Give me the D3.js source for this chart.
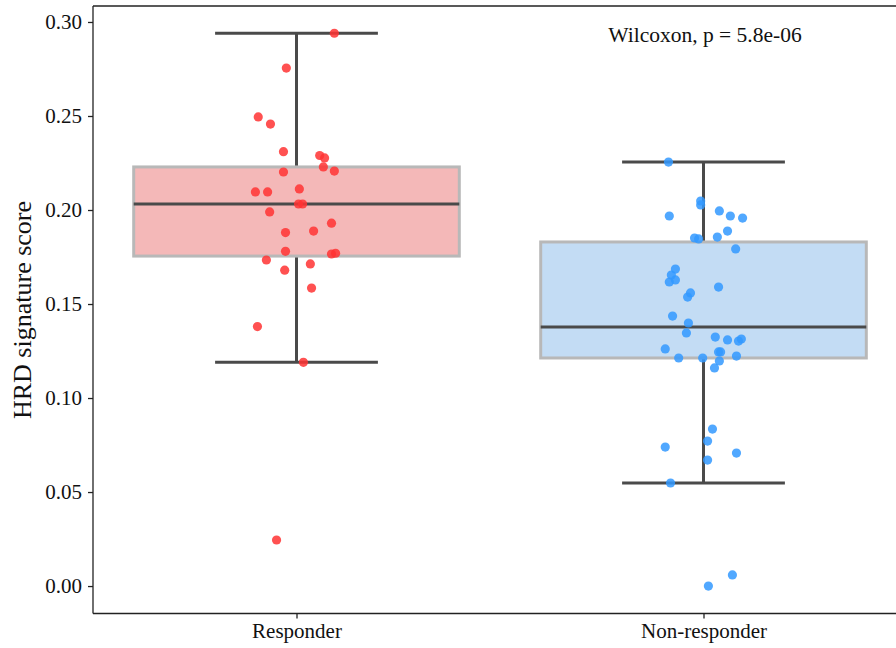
<!DOCTYPE html>
<html>
<head>
<meta charset="utf-8">
<script src="https://cdn.jsdelivr.net/npm/d3@7"></script>
<style>
  body { margin: 0; background: #fff; }
  svg text { font-family: "Liberation Serif", "Times New Roman", serif; fill: #111; }
</style>
</head>
<body>
<div id="app"></div>
<script>
// groups
const groups = ["Responder", "Non-responder"];
const yTicks = [0.00, 0.05, 0.10, 0.15, 0.20, 0.25, 0.30];
const pText = "Wilcoxon, p = 5.8e-06";

// box stats: [whiskerLow, q1, median, q3, whiskerHigh]
const respStats = [0.119, 0.1755, 0.2032, 0.2229, 0.294];
const nonStats = [0.0548, 0.1213, 0.1378, 0.183, 0.2255];

// scores (jitter offset in category units is kept beside each)
const respScores = [0.294, 0.2755, 0.2495, 0.2457, 0.231, 0.229, 0.2277, 0.2229, 0.2207, 0.2202,
  0.2096, 0.2096, 0.2112, 0.199, 0.2032, 0.2032, 0.193, 0.188, 0.1888, 0.178,
  0.1766, 0.177, 0.1734, 0.1713, 0.168, 0.1585, 0.138, 0.119, 0.0245];
const respJitter = [0.093, -0.025, -0.094, -0.064, -0.032, 0.057, 0.069, 0.066, 0.093, -0.032,
  -0.101, -0.071, 0.007, -0.066, 0.015, 0.005, 0.086, -0.027, 0.042, -0.027,
  0.086, 0.096, -0.074, 0.034, -0.029, 0.037, -0.096, 0.017, -0.049];

const nonScores = [0.2255, 0.2048, 0.2027, 0.1968, 0.1995, 0.1968, 0.1957, 0.1888, 0.1851, 0.1846,
  0.1856, 0.1793, 0.1686, 0.1654, 0.1617, 0.1628, 0.159, 0.1559, 0.1537, 0.1436,
  0.1399, 0.1346, 0.1324, 0.1309, 0.1303, 0.1314, 0.1261, 0.1213, 0.1213, 0.1245,
  0.1245, 0.1197, 0.1223, 0.116, 0.0835, 0.0771, 0.0739, 0.0707, 0.067, 0.0548,
  0.0059, 0.0];
const nonJitter = [-0.086, -0.007, -0.007, -0.084, 0.039, 0.066, 0.096, 0.059, -0.022, -0.012,
  0.034, 0.079, -0.069, -0.079, -0.084, -0.069, 0.037, -0.032, -0.039, -0.076,
  -0.037, -0.042, 0.029, 0.059, 0.086, 0.093, -0.094, -0.061, -0.002, 0.037,
  0.042, 0.039, 0.081, 0.027, 0.022, 0.010, -0.094, 0.081, 0.010, -0.081,
  0.071, 0.012];

const fills = ["#f4b8b8", "#c3dcf4"];
const dotColors = ["#ff3333", "#3399ff"];

const w = 896, h = 648;
const svg = d3.select("#app").append("svg")
  .attr("width", w).attr("height", h);

const xScale = d3.scaleLinear().domain([-0.5, 1.5]).range([93, 907]);
const yScale = d3.scaleLinear().domain([-0.0146, 0.3085]).range([613.5, 6]);

const boxes = [
  {i: 0, s: respStats},
  {i: 1, s: nonStats}
];

const boxW = 0.8, capW = 0.4;
const plot = svg.append("g");

boxes.forEach(b => {
  const [lo, q1, med, q3, hi] = b.s;
  const cx = b.i;
  // whiskers
  plot.append("line")
    .attr("x1", xScale(cx)).attr("x2", xScale(cx))
    .attr("y1", yScale(q3)).attr("y2", yScale(hi))
    .attr("stroke", "#4a4a4a").attr("stroke-width", 3);
  plot.append("line")
    .attr("x1", xScale(cx)).attr("x2", xScale(cx))
    .attr("y1", yScale(q1)).attr("y2", yScale(lo))
    .attr("stroke", "#4a4a4a").attr("stroke-width", 3);
  [lo, hi].forEach(v => {
    plot.append("line")
      .attr("x1", xScale(cx - capW / 2)).attr("x2", xScale(cx + capW / 2))
      .attr("y1", yScale(v)).attr("y2", yScale(v))
      .attr("stroke", "#4a4a4a").attr("stroke-width", 3);
  });
  // box
  plot.append("rect")
    .attr("x", xScale(cx - boxW / 2))
    .attr("y", yScale(q3))
    .attr("width", xScale(cx + boxW / 2) - xScale(cx - boxW / 2))
    .attr("height", yScale(q1) - yScale(q3))
    .attr("fill", fills[b.i])
    .attr("stroke", "#b8b8b8")
    .attr("stroke-width", 3);
  plot.append("line")
    .attr("x1", xScale(cx - boxW / 2)).attr("x2", xScale(cx + boxW / 2))
    .attr("y1", yScale(med)).attr("y2", yScale(med))
    .attr("stroke", "#4a4a4a").attr("stroke-width", 3);
});

// dots
const dots = [
  ...respScores.map((v, k) => ({g: 0, v: v, j: respJitter[k]})),
  ...nonScores.map((v, k) => ({g: 1, v: v, j: nonJitter[k]}))
];
plot.selectAll(".dot")
  .data(dots)
  .enter()
  .append("circle")
  .attr("class", "dot")
  .attr("cx", d => xScale(d.g + d.j))
  .attr("cy", d => yScale(d.v))
  .attr("r", 4.6)
  .attr("fill", d => dotColors[d.g])
  .attr("fill-opacity", 0.85);

// axes
const yAxis = d3.axisLeft(yScale).tickValues(yTicks).tickFormat(d3.format(".2f")).tickSize(5).tickPadding(6);
const gy = svg.append("g").attr("transform", "translate(93,0)").call(yAxis);
gy.select(".domain").attr("d", "M0," + yScale.range()[0] + "V" + yScale.range()[1]);

const xAxis = d3.axisBottom(xScale).tickValues([0, 1]).tickFormat(i => groups[i]).tickSize(5).tickPadding(5);
const gx = svg.append("g").attr("transform", "translate(0,613.5)").call(xAxis);
gx.select(".domain").attr("d", "M93,0H907");

svg.selectAll(".domain").attr("stroke", "#222").attr("stroke-width", 1.3);
svg.selectAll(".tick line").attr("stroke", "#222").attr("stroke-width", 1.3);
svg.selectAll(".tick text").style("font-size", "21px").attr("fill", "#111");

// top spine
svg.append("line").attr("x1", 93).attr("x2", 907).attr("y1", 6).attr("y2", 6)
  .attr("stroke", "#222").attr("stroke-width", 1.3);

svg.append("text")
  .attr("transform", "rotate(-90)")
  .attr("x", -310).attr("y", 31)
  .style("text-anchor", "middle")
  .style("font-size", "26px")
  .text("HRD signature score");

svg.append("text")
  .attr("x", 705).attr("y", 42)
  .style("text-anchor", "middle")
  .style("font-size", "21.5px")
  .text(pText);
</script>
</body>
</html>
